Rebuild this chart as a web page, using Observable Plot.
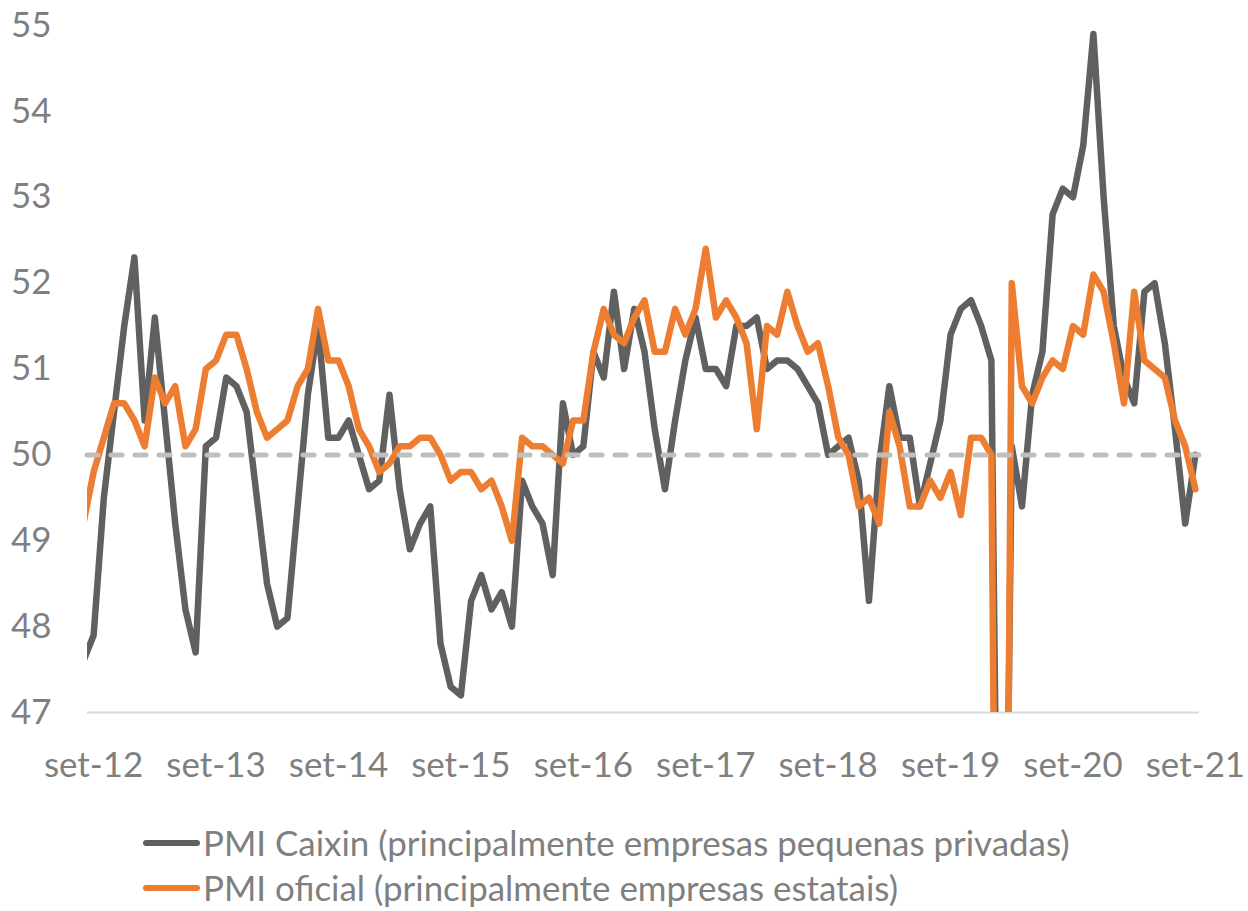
<!DOCTYPE html>
<html>
<head>
<meta charset="utf-8">
<script src="https://cdn.jsdelivr.net/npm/d3@7"></script>
<script src="https://cdn.jsdelivr.net/npm/@observablehq/plot@0.6"></script>
<style>
  html, body { margin: 0; padding: 0; background: #fff; }
  #wrap { position: relative; width: 1248px; height: 911px; font-family: Lato, "Open Sans", sans-serif; color: #7f7f7f; }
  #legend { position: absolute; left: 143px; top: 820px; }
  .row { display: flex; align-items: center; height: 45px; white-space: nowrap; }
  .sw { width: 57px; height: 6px; border-radius: 3px; margin-right: 3px; }
</style>
</head>
<body>
<div id="wrap">
  <div id="chart"></div>
  <div id="legend"></div>
</div>
<script>
// Monthly values from ago-12 (index -1) to set-21 (index 108); index 0 = set-12
const caixin = [
  47.6, 47.9, 49.5, 50.5, 51.5,
  52.3, 50.4, 51.6, 50.4, 49.2, 48.2, 47.7, 50.1, 50.2, 50.9, 50.8, 50.5,
  49.5, 48.5, 48.0, 48.1, 49.4, 50.7, 51.5, 50.2, 50.2, 50.4, 50.0, 49.6,
  49.7, 50.7, 49.6, 48.9, 49.2, 49.4, 47.8, 47.3, 47.2, 48.3, 48.6, 48.2,
  48.4, 48.0, 49.7, 49.4, 49.2, 48.6, 50.6, 50.0, 50.1, 51.2, 50.9, 51.9,
  51.0, 51.7, 51.2, 50.3, 49.6, 50.4, 51.1, 51.6, 51.0, 51.0, 50.8, 51.5,
  51.5, 51.6, 51.0, 51.1, 51.1, 51.0, 50.8, 50.6, 50.0, 50.1, 50.2, 49.7,
  48.3, 49.9, 50.8, 50.2, 50.2, 49.4, 49.9, 50.4, 51.4, 51.7, 51.8, 51.5,
  51.1, 40.3, 50.1, 49.4, 50.7, 51.2, 52.8, 53.1, 53.0, 53.6, 54.9, 53.0,
  51.5, 50.9, 50.6, 51.9, 52.0, 51.3, 50.3, 49.2, 50.0
];
const oficial = [
  49.2, 49.8, 50.2, 50.6, 50.6,
  50.4, 50.1, 50.9, 50.6, 50.8, 50.1, 50.3, 51.0, 51.1, 51.4, 51.4, 51.0,
  50.5, 50.2, 50.3, 50.4, 50.8, 51.0, 51.7, 51.1, 51.1, 50.8, 50.3, 50.1,
  49.8, 49.9, 50.1, 50.1, 50.2, 50.2, 50.0, 49.7, 49.8, 49.8, 49.6, 49.7,
  49.4, 49.0, 50.2, 50.1, 50.1, 50.0, 49.9, 50.4, 50.4, 51.2, 51.7, 51.4,
  51.3, 51.6, 51.8, 51.2, 51.2, 51.7, 51.4, 51.7, 52.4, 51.6, 51.8, 51.6,
  51.3, 50.3, 51.5, 51.4, 51.9, 51.5, 51.2, 51.3, 50.8, 50.2, 50.0, 49.4,
  49.5, 49.2, 50.5, 50.1, 49.4, 49.4, 49.7, 49.5, 49.8, 49.3, 50.2, 50.2,
  50.0, 35.7, 52.0, 50.8, 50.6, 50.9, 51.1, 51.0, 51.5, 51.4, 52.1, 51.9,
  51.3, 50.6, 51.9, 51.1, 51.0, 50.9, 50.4, 50.1, 49.6
];
const xTickLabels = ["set-12","set-13","set-14","set-15","set-16","set-17","set-18","set-19","set-20","set-21"];
const yTicks = [47, 48, 49, 50, 51, 52, 53, 54, 55];
const refLevel = 50;
const seriesNames = [
  "PMI Caixin (principalmente empresas pequenas privadas)",
  "PMI oficial (principalmente empresas estatais)"
];
const colors = ["#606060", "#ED7D31"];

const firstIndex = -1;
const caixinData = caixin.map((v, i) => ({t: i + firstIndex, v}));
const oficialData = oficial.map((v, i) => ({t: i + firstIndex, v}));
const xTicks = xTickLabels.map((_, i) => i * 12);

const fontFamily = "Lato, 'Open Sans', sans-serif";
// fit font size so that the legend text matches the reference width
const ctx = document.createElement("canvas").getContext("2d");
ctx.font = `100px ${fontFamily}`;
const w100 = ctx.measureText(seriesNames[0]).width;
const fs = Math.round(100 * 867 / w100 * 10) / 10;

const lineOpts = {strokeWidth: 6.5, strokeLinejoin: "round", strokeLinecap: "round", clip: true};

const chart = Plot.plot({
  width: 1248,
  height: 815,
  marginLeft: 87,
  marginRight: 49,
  marginTop: 25,
  marginBottom: 103,
  style: {fontFamily, fontSize: fs + "px", color: "#7f7f7f", background: "#fff"},
  x: {type: "linear", domain: [-0.6, 108.4]},
  y: {domain: [47, 55]},
  marks: [
    Plot.ruleY([47], {stroke: "#d9d9d9", strokeWidth: 2}),
    Plot.axisY({ticks: yTicks, tickSize: 0, tickPadding: 36, label: null, fontSize: fs, fill: "#7f7f7f"}),
    Plot.axisX({ticks: xTicks, tickSize: 0, tickPadding: 40, label: null, fontSize: fs, fill: "#7f7f7f",
      tickFormat: d => xTickLabels[Math.round(d / 12)]}),
    Plot.lineY(caixinData, {x: "t", y: "v", stroke: colors[0], ...lineOpts}),
    Plot.lineY(oficialData, {x: "t", y: "v", stroke: colors[1], ...lineOpts}),
    Plot.ruleY([refLevel], {stroke: "#bfbfbf", strokeWidth: 5, strokeDasharray: "11,13", strokeLinecap: "round"})
  ]
});
document.getElementById("chart").appendChild(chart);

const legend = document.getElementById("legend");
seriesNames.forEach((name, i) => {
  const row = document.createElement("div");
  row.className = "row";
  row.style.fontSize = fs + "px";
  const sw = document.createElement("div");
  sw.className = "sw";
  sw.style.background = colors[i];
  const tx = document.createElement("span");
  tx.textContent = name;
  row.appendChild(sw);
  row.appendChild(tx);
  legend.appendChild(row);
});
</script>
</body>
</html>
